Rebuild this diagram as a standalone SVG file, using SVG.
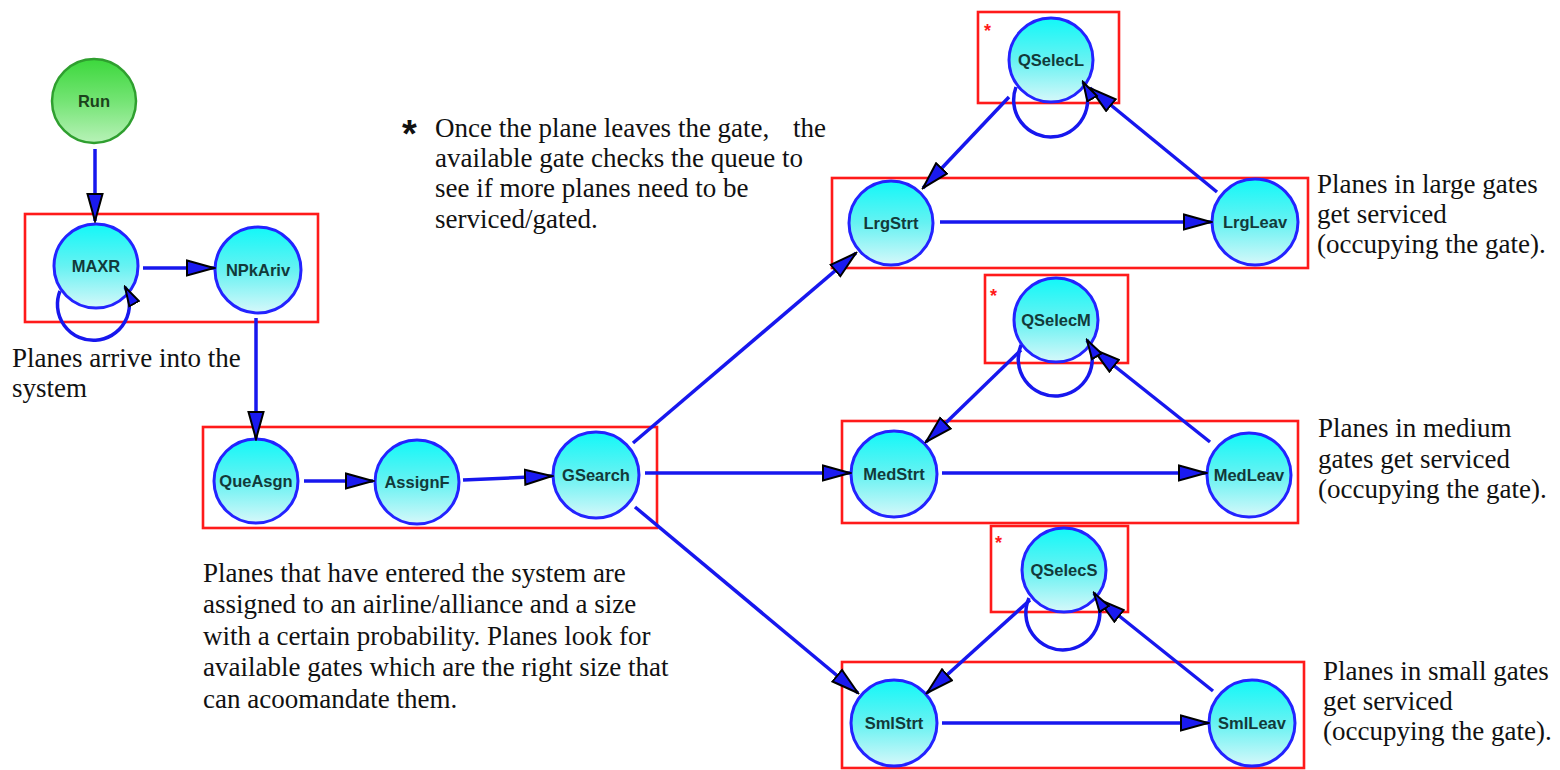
<svg xmlns="http://www.w3.org/2000/svg" width="1560" height="770" viewBox="0 0 1560 770">
<style>
.box{fill:none;stroke:#ff1a1a;stroke-width:2.6}
.node{fill:url(#cy);stroke:#2323ff;stroke-width:3}
.run{fill:url(#gr);stroke:#2f9f2f;stroke-width:2.5}
.lbl{font-family:"Liberation Sans",Arial,sans-serif;font-weight:bold;font-size:16.5px;fill:#123a3a;text-anchor:middle}
.edge{fill:none;stroke:#1717ee;stroke-width:3.5;marker-end:url(#ah)}
.loop{fill:none;stroke:#1717ee;stroke-width:3.5;marker-end:url(#ahs)}
.txt{font-family:"Liberation Serif","Times New Roman",serif;font-size:27px;fill:#111}
.rs{font-family:"Liberation Sans",Arial,sans-serif;font-weight:bold;font-size:18px;fill:#ff1a1a}
</style>
<defs>
<linearGradient id="cy" x1="0" y1="0" x2="0" y2="1">
<stop offset="0" stop-color="#12f8f8"/>
<stop offset="0.5" stop-color="#66f2f2"/>
<stop offset="1" stop-color="#d6f8fa"/>
</linearGradient>
<linearGradient id="gr" x1="0" y1="0" x2="0" y2="1">
<stop offset="0" stop-color="#3cd83c"/>
<stop offset="0.5" stop-color="#74e474"/>
<stop offset="1" stop-color="#b8f2b8"/>
</linearGradient>
<marker id="ah" markerUnits="userSpaceOnUse" markerWidth="30" markerHeight="18" viewBox="0 0 30 18" refX="28" refY="9" orient="auto">
<path d="M1,1.5 L28,9 L1,16.5 Z" fill="#1a1af0" stroke="#000" stroke-width="2"/>
</marker>
<marker id="ahs" markerUnits="userSpaceOnUse" markerWidth="22" markerHeight="14" viewBox="0 0 22 14" refX="20" refY="7" orient="auto">
<path d="M1,1.5 L20,7 L1,12.5 Z" fill="#1a1af0" stroke="#000" stroke-width="2"/>
</marker>
</defs>

<g id="boxes">
<rect class="box" x="25" y="214" width="293" height="108"/>
<rect class="box" x="203" y="427" width="454" height="101"/>
<rect class="box" x="978" y="12" width="141" height="91"/>
<rect class="box" x="832" y="178" width="476" height="90"/>
<rect class="box" x="985" y="275" width="143" height="88"/>
<rect class="box" x="842" y="421" width="456" height="102"/>
<rect class="box" x="991" y="526" width="137" height="86"/>
<rect class="box" x="842" y="662" width="462" height="106"/>
</g>

<g id="node-Run"><circle class="run" cx="94" cy="101" r="42"/><text class="lbl" x="94" y="107" style="fill:#1c421c">Run</text></g>
<g id="node-MAXR"><circle class="node" cx="96" cy="266" r="42"/><text class="lbl" x="96" y="272">MAXR</text></g>
<g id="node-NPkAriv"><circle class="node" cx="258" cy="270" r="43"/><text class="lbl" x="258" y="276">NPkAriv</text></g>
<g id="node-QueAsgn"><circle class="node" cx="256" cy="481" r="42"/><text class="lbl" x="256" y="487">QueAsgn</text></g>
<g id="node-AssignF"><circle class="node" cx="417" cy="482" r="42"/><text class="lbl" x="417" y="488">AssignF</text></g>
<g id="node-GSearch"><circle class="node" cx="596" cy="475" r="43"/><text class="lbl" x="596" y="481">GSearch</text></g>
<g id="node-QSelecL"><circle class="node" cx="1051" cy="60" r="42"/><text class="lbl" x="1051" y="66">QSelecL</text></g>
<g id="node-LrgStrt"><circle class="node" cx="891" cy="223" r="42"/><text class="lbl" x="891" y="229">LrgStrt</text></g>
<g id="node-LrgLeav"><circle class="node" cx="1255" cy="222" r="43"/><text class="lbl" x="1255" y="228">LrgLeav</text></g>
<g id="node-QSelecM"><circle class="node" cx="1056" cy="320" r="42"/><text class="lbl" x="1056" y="326">QSelecM</text></g>
<g id="node-MedStrt"><circle class="node" cx="894" cy="474" r="43"/><text class="lbl" x="894" y="480">MedStrt</text></g>
<g id="node-MedLeav"><circle class="node" cx="1249" cy="475" r="42"/><text class="lbl" x="1249" y="481">MedLeav</text></g>
<g id="node-QSelecS"><circle class="node" cx="1064" cy="570" r="42"/><text class="lbl" x="1064" y="576">QSelecS</text></g>
<g id="node-SmlStrt"><circle class="node" cx="894" cy="723" r="43"/><text class="lbl" x="894" y="729">SmlStrt</text></g>
<g id="node-SmlLeav"><circle class="node" cx="1252" cy="723" r="43"/><text class="lbl" x="1252" y="729">SmlLeav</text></g>

<g id="connectors">
<line class="edge" x1="95" y1="149" x2="95" y2="221"/>
<path class="loop" d="M60,291 A36,36 0 1 0 125,287"/>
<line class="edge" x1="143" y1="268" x2="214" y2="268"/>
<line class="edge" x1="256" y1="318" x2="256" y2="439"/>
<line class="edge" x1="304" y1="481" x2="373" y2="481"/>
<line class="edge" x1="463" y1="480" x2="552" y2="476"/>
<line class="edge" x1="633" y1="443" x2="856" y2="253"/>
<line class="edge" x1="645" y1="473" x2="850" y2="473"/>
<line class="edge" x1="635" y1="507" x2="858" y2="693"/>
<line class="edge" x1="940" y1="222" x2="1211" y2="222"/>
<line class="edge" x1="1009" y1="97" x2="923" y2="188"/>
<line class="edge" x1="1217" y1="192" x2="1090" y2="88"/>
<path class="loop" d="M1016,87 A37,37 0 1 0 1083,82"/>
<line class="edge" x1="1021" y1="350" x2="926" y2="442"/>
<line class="edge" x1="1210" y1="442" x2="1093" y2="349"/>
<path class="loop" d="M1021,345 A37,37 0 1 0 1087,340"/>
<line class="edge" x1="942" y1="473" x2="1206" y2="473"/>
<line class="edge" x1="1030" y1="600" x2="927" y2="693"/>
<line class="edge" x1="1213" y1="691" x2="1098" y2="599"/>
<path class="loop" d="M1029,598 A37,37 0 1 0 1094,593"/>
<line class="edge" x1="942" y1="723" x2="1208" y2="723"/>
</g>

<g id="stars">
<text class="rs" x="984" y="37">*</text>
<text class="rs" x="990" y="302">*</text>
<text class="rs" x="995" y="549">*</text>
</g>

<g id="texts">
<text class="txt" x="12" y="367">Planes arrive into the</text>
<text class="txt" x="12" y="397">system</text>
<text x="402" y="147" style="font-family:'Liberation Sans',Arial,sans-serif;font-weight:bold;font-size:38px;fill:#111">*</text>
<text class="txt" x="435" y="137">Once the plane leaves the gate,<tspan x="793">the</tspan></text>
<text class="txt" x="435" y="167">available gate checks the queue to</text>
<text class="txt" x="435" y="197">see if more planes need to be</text>
<text class="txt" x="435" y="228">serviced/gated.</text>
<text class="txt" x="203" y="582">Planes that have entered the system are</text>
<text class="txt" x="203" y="613">assigned to an airline/alliance and a size</text>
<text class="txt" x="203" y="645">with a certain probability. Planes look for</text>
<text class="txt" x="203" y="676">available gates which are the right size that</text>
<text class="txt" x="203" y="708">can acoomandate them.</text>
<text class="txt" x="1317" y="193">Planes in large gates</text>
<text class="txt" x="1317" y="223">get serviced</text>
<text class="txt" x="1317" y="253">(occupying the gate).</text>
<text class="txt" x="1318" y="437">Planes in medium</text>
<text class="txt" x="1318" y="468">gates get serviced</text>
<text class="txt" x="1318" y="498">(occupying the gate).</text>
<text class="txt" x="1323" y="680">Planes in small gates</text>
<text class="txt" x="1323" y="710">get serviced</text>
<text class="txt" x="1323" y="740">(occupying the gate).</text>
</g>
</svg>
